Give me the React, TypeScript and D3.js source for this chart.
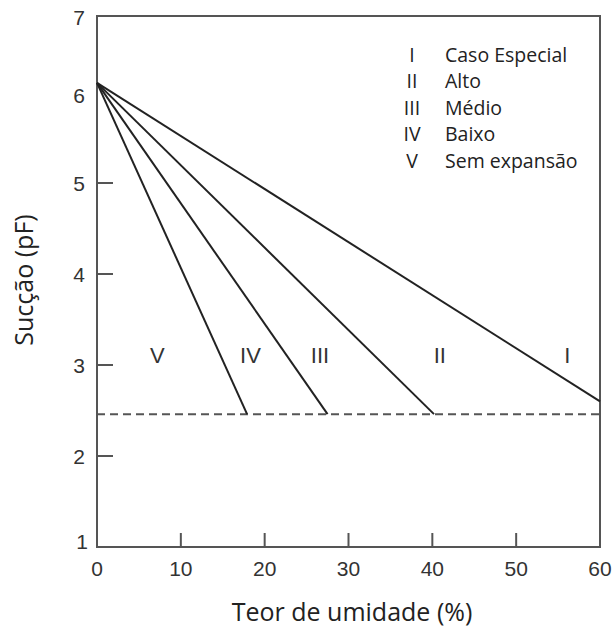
import React from 'react';
import * as d3 from 'd3';

// moisture content (%) where each line meets the dashed line / right edge
const classes = ['I', 'II', 'III', 'IV', 'V'];
const classNames = ['Caso Especial', 'Alto', 'Médio', 'Baixo', 'Sem expansão'];
const originSuction = 6.12;
const lineEndX = [60, 40.2, 27.5, 17.9];
const lineEndY = [2.6, 2.46, 2.46, 2.46];
const dashedLevel = 2.46;
// region labels inside the plot
const regionLabels = ['V', 'IV', 'III', 'II', 'I'];
const regionLabelX = [7.2, 18.3, 26.6, 40.9, 56.1];
const regionLabelY = 3.1;

const xTicks = [0, 10, 20, 30, 40, 50, 60];
const yTicks = [1, 2, 3, 4, 5, 6, 7];

const W = 616;
const H = 630;
const left = 97;
const right = 600;
const top = 16;
const bottom = 547;

export default function App() {
  const x = d3.scaleLinear().domain([0, 60]).range([left, right]);
  // top of the frame is squeezed in the original figure
  const y = d3.scaleLinear().domain([1, 6, 7]).range([bottom, 92, top]);

  const line = d3
    .line<[number, number]>()
    .x(d => x(d[0]))
    .y(d => y(d[1]));

  const frameColor = '#555';
  const ink = '#222';
  const tickFont = '"Liberation Sans", Arial, sans-serif';
  const textFont = '"Open Sans", sans-serif';

  return (
    <svg
      width={W}
      height={H}
      style={{ position: 'absolute', left: 0, top: 0, background: 'white' }}
    >
      {/* frame */}
      <rect
        x={left}
        y={top}
        width={right - left}
        height={bottom - top}
        fill="none"
        stroke={frameColor}
        strokeWidth={2}
      />

      {/* x ticks */}
      {xTicks.map(t => (
        <g key={'x' + t}>
          {t > 0 && t < 60 && (
            <line x1={x(t)} x2={x(t)} y1={bottom} y2={bottom - 14} stroke={frameColor} strokeWidth={2} />
          )}
          <text
            x={x(t)}
            y={568}
            textAnchor="middle"
            dominantBaseline="central"
            fontFamily={tickFont}
            fontSize={21}
            fill="#333"
          >
            {t}
          </text>
        </g>
      ))}

      {/* y ticks */}
      {yTicks.map(t => (
        <g key={'y' + t}>
          {t > 1 && t < 6 && (
            <line x1={left} x2={left + 16} y1={y(t)} y2={y(t)} stroke={frameColor} strokeWidth={2} />
          )}
          <text
            x={t === 1 ? 88 : 85}
            y={t === 7 ? 17 : t === 6 ? 95 : t === 1 ? 541 : y(t)}
            textAnchor="end"
            dominantBaseline="central"
            fontFamily={tickFont}
            fontSize={21}
            fill="#333"
          >
            {t}
          </text>
        </g>
      ))}

      {/* dashed level */}
      <line
        x1={x(0)}
        x2={x(60)}
        y1={y(dashedLevel)}
        y2={y(dashedLevel)}
        stroke={frameColor}
        strokeWidth={2}
        strokeDasharray="8,5"
      />

      {/* class lines */}
      {lineEndX.map((ex, i) => (
        <path
          key={'l' + i}
          d={line([[0, originSuction], [ex, lineEndY[i]]]) || ''}
          fill="none"
          stroke={ink}
          strokeWidth={2}
        />
      ))}

      {/* region labels */}
      {regionLabels.map((l, i) => (
        <text
          key={'r' + l}
          x={x(regionLabelX[i])}
          y={y(regionLabelY)}
          textAnchor="middle"
          dominantBaseline="central"
          fontFamily={tickFont}
          fontSize={22}
          fill="#333"
        >
          {l}
        </text>
      ))}

      {/* legend */}
      {classes.map((c, i) => (
        <g key={'lg' + c} transform={`translate(0, ${54 + i * 26.5})`}>
          <text x={412} y={0} textAnchor="middle" dominantBaseline="central" fontFamily={textFont} fontSize={19.5} fill="#222">
            {c}
          </text>
          <text x={445} y={0} dominantBaseline="central" fontFamily={textFont} fontSize={19.5} fill="#222">
            {classNames[i]}
          </text>
        </g>
      ))}

      {/* axis titles */}
      <text x={352} y={621} textAnchor="middle" fontFamily={textFont} fontSize={25} fill="#222">
        Teor de umidade (%)
      </text>
      <text
        transform={`translate(33, 280) rotate(-90)`}
        textAnchor="middle"
        fontFamily={textFont}
        fontSize={25}
        fill="#222"
      >
        Sucção (pF)
      </text>
    </svg>
  );
}
